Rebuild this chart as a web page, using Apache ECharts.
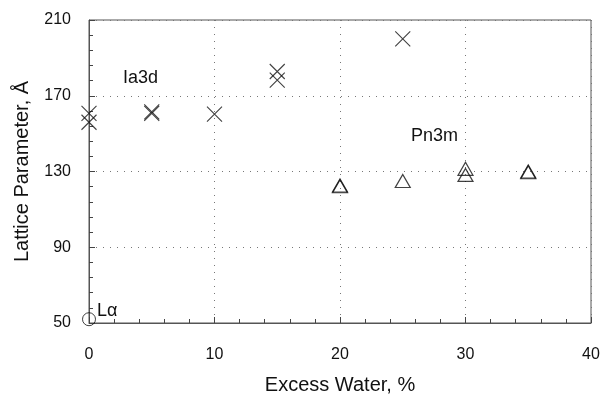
<!DOCTYPE html>
<html><head><meta charset="utf-8">
<script src="https://cdn.jsdelivr.net/npm/echarts@6/dist/echarts.min.js"></script>
<style>html,body{margin:0;padding:0;background:#fff}#c{width:603px;height:395px}</style>
</head><body><div id="c"></div>
<script>
// Ia3d (crosses)
const ia3dX = [0, 0, 5, 5, 10, 15, 15, 25];
const ia3dY = [160.7, 156, 161.5, 160.7, 160.3, 182.8, 178.3, 200];
// Pn3m (triangles)
const pn3mX = [20, 20, 25, 30, 30, 35, 35];
const pn3mY = [122.6, 122.2, 125, 131.4, 128.2, 130, 129.6];
// L-alpha (circle)
const laX = [0];
const laY = [52];
const xTicks = [0, 10, 20, 30, 40];
const yTicks = [50, 90, 130, 170, 210];

const zip = (a, b) => a.map((v, i) => [v, b[i]]);
const font = '"Liberation Sans", Arial, sans-serif';
const chart = echarts.init(document.getElementById('c'));
chart.setOption({
  animation: false,
  backgroundColor: '#fff',
  grid: { left: 89, right: 12, top: 20, bottom: 72, show: true, borderColor: '#555', borderWidth: 1,
          containLabel: false, outerBoundsMode: 'none' },
  xAxis: {
    type: 'value', min: xTicks[0], max: xTicks[xTicks.length - 1], interval: 10,
    name: 'Excess Water, %', nameLocation: 'middle', nameGap: 52,
    nameTextStyle: { fontFamily: font, fontSize: 20, color: '#111' },
    axisLine: { lineStyle: { color: '#555' } },
    axisTick: { inside: true, length: 6, lineStyle: { color: '#444' } },
    minorTick: { show: true, splitNumber: 5, length: 4, lineStyle: { color: '#444' } },
    axisLabel: { fontFamily: font, fontSize: 16, color: '#111', margin: 24 },
    splitLine: { show: true, lineStyle: { color: '#777', type: [1, 6], width: 1 } }
  },
  yAxis: {
    type: 'value', min: yTicks[0], max: yTicks[yTicks.length - 1], interval: 40,
    name: 'Lattice Parameter, Å', nameLocation: 'middle', nameGap: 57,
    nameTextStyle: { fontFamily: font, fontSize: 20, color: '#111' },
    axisLine: { show: true, lineStyle: { color: '#555' } },
    axisTick: { show: true, inside: true, length: 6, lineStyle: { color: '#444' } },
    minorTick: { show: true, splitNumber: 5, length: 4, lineStyle: { color: '#444' } },
    axisLabel: { fontFamily: font, fontSize: 16, color: '#111', margin: 18 },
    splitLine: { show: true, lineStyle: { color: '#777', type: [1, 6], width: 1 } }
  },
  series: [
    {
      type: 'scatter', data: zip(ia3dX, ia3dY),
      symbol: 'path://M0,0L10,10M10,0L0,10', symbolSize: 15,
      itemStyle: { color: 'none', borderColor: '#111', borderWidth: 1.1 }
    },
    {
      type: 'scatter', data: zip(pn3mX, pn3mY),
      symbol: 'triangle', symbolSize: [15, 13],
      itemStyle: { color: 'none', borderColor: '#111', borderWidth: 1.2 }
    },
    {
      type: 'scatter', data: zip(laX, laY),
      symbol: 'circle', symbolSize: 13,
      itemStyle: { color: 'none', borderColor: '#111', borderWidth: 1 }
    }
  ],
  graphic: [
    { type: 'text', left: 123, top: 69, style: { text: 'Ia3d', font: '18px ' + font, fill: '#111' } },
    { type: 'text', left: 411, top: 127, style: { text: 'Pn3m', font: '18px ' + font, fill: '#111' } },
    { type: 'text', left: 97, top: 302, style: { text: 'Lα', font: '18px ' + font, fill: '#111' } }
  ]
});
</script></body></html>
